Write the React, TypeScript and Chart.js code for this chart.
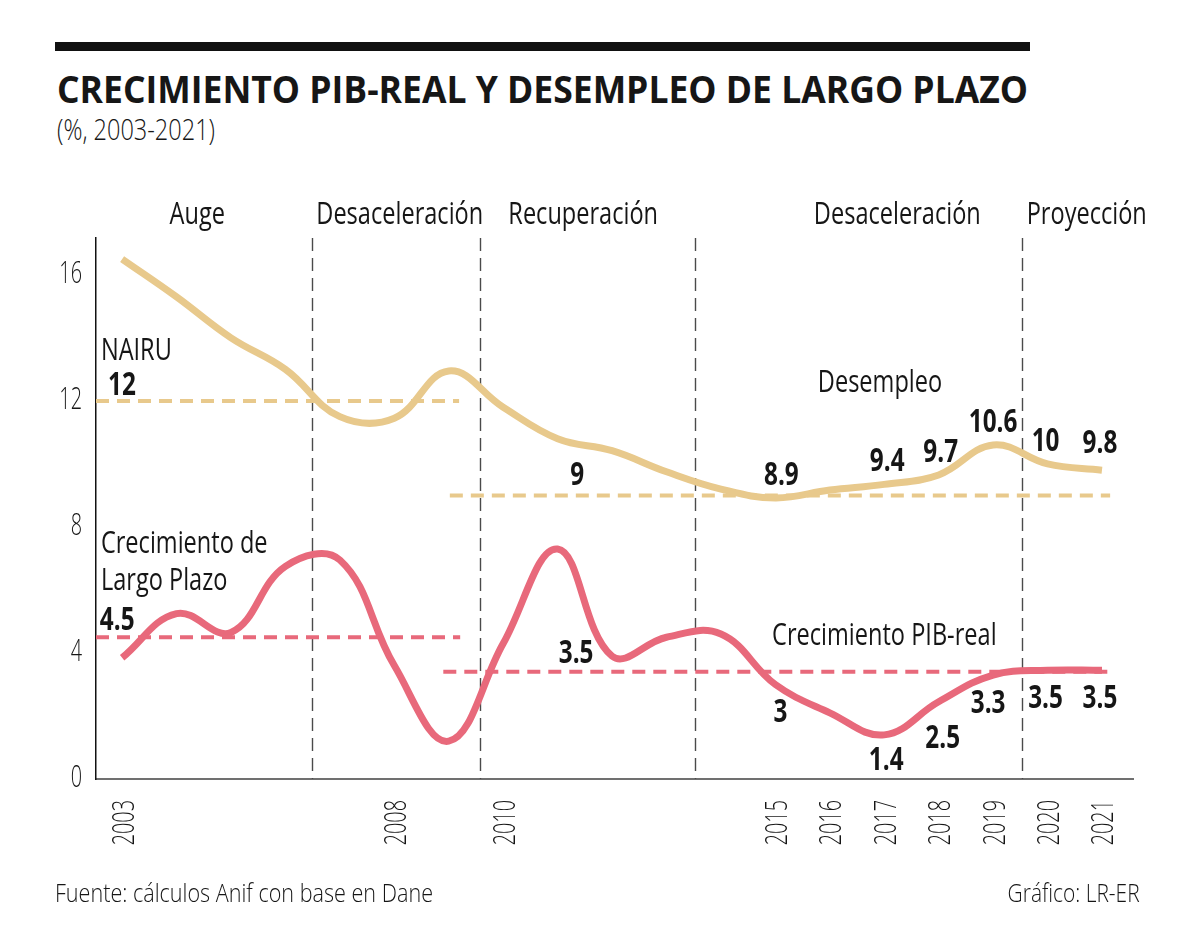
import React, { useEffect, useLayoutEffect, useRef } from "react";
import { Chart, registerables } from "chart.js";

Chart.register(...registerables);

// ---------- data ----------
const years = [2003, 2004, 2005, 2006, 2007, 2008, 2009, 2010, 2011, 2012, 2013, 2014, 2015, 2016, 2017, 2018, 2019, 2020, 2021];
const unemployment = [16.5, 15.3, 14.0, 13.0, 11.5, 11.45, 12.95, 11.8, 10.8, 10.42, 9.75, 9.2, 8.92, 9.17, 9.35, 9.65, 10.6, 10.0, 9.8];
const growthPIB = [3.85, 5.25, 4.65, 6.75, 6.95, 3.6, 1.2, 4.3, 7.3, 3.9, 4.5, 4.6, 3.0, 2.1, 1.4, 2.45, 3.3, 3.45, 3.45];

const nairuLevels = [12, 9];
const nairuStarts = [2002.52, 2009.02];
const nairuEnds = [2009.19, 2021.15];
const nairuLabels = ["12", "9"];

const longGrowthLevels = [4.5, 3.4];
const longGrowthStarts = [2002.52, 2008.9];
const longGrowthEnds = [2009.21, 2021.15];
const longGrowthLabels = ["4.5", "3.5"];

const periodNames = ["Auge", "Desaceleración", "Recuperación", "Desaceleración", "Proyección"];
const periodCenters = [2004.38, 2008.1, 2011.47, 2017.24, 2020.72];
const periodBreaks = [2006.49, 2009.58, 2013.53, 2019.53];

const xTickYears = [2003, 2008, 2010, 2015, 2016, 2017, 2018, 2019, 2020, 2021];
const yTickValues = [0, 4, 8, 12, 16];

const unempLabelYears = [2015, 2017, 2018, 2019, 2020, 2021];
const unempLabelTexts = ["8.9", "9.4", "9.7", "10.6", "10", "9.8"];
const growthLabelYears = [2015, 2017, 2018, 2019, 2020, 2021];
const growthLabelTexts = ["3", "1.4", "2.5", "3.3", "3.5", "3.5"];

// label nudges (pixels) for readability, matching the reference placement
const unempLabelNudgeX = [6, 3, 2, 0, -2, -2];
const unempLabelNudgeY = [0, 0, 0, 0, 0, -4];
const growthLabelNudgeX = [5, 2, 4, -5, -2, -2];
const growthLabelNudgeY = [0, -3, 8, 0, 0, 0];

// ---------- styles ----------
const TAN = "#E8C98C";
const PINK = "#E8697B";
const INK = "#161616";
const FONT = '"Open Sans", "Noto Sans", sans-serif';

type TxtOpts = { size: number; weight?: number; sx?: number; align?: CanvasTextAlign; color?: string; rotate?: boolean };
const REG: TxtOpts = { size: 31, weight: 400, sx: 0.76 };
const BOLD: TxtOpts = { size: 32, weight: 700, sx: 0.76 };
const TICK: TxtOpts = { size: 32, weight: 300, sx: 0.62 };

function txt(ctx: CanvasRenderingContext2D, s: string, x: number, y: number, o: TxtOpts) {
  ctx.save();
  ctx.font = `${o.weight ?? 400} ${o.size}px ${FONT}`;
  ctx.fillStyle = o.color ?? INK;
  ctx.textAlign = o.align ?? "left";
  ctx.textBaseline = "alphabetic";
  ctx.translate(x, y);
  if (o.rotate) ctx.rotate(-Math.PI / 2);
  ctx.scale(o.sx ?? 1, 1);
  ctx.fillText(s, 0, 0);
  ctx.restore();
}

const annotations = {
  id: "annotations",
  beforeDatasetsDraw(chart: any) {
    const { ctx, chartArea: a, scales } = chart;
    const x = scales.x;
    ctx.save();
    ctx.strokeStyle = "#4a4a4a";
    ctx.lineWidth = 1.4;
    ctx.setLineDash([13, 7]);
    periodBreaks.forEach((b) => {
      const px = Math.round(x.getPixelForValue(b)) + 0.5;
      ctx.beginPath();
      ctx.moveTo(px, a.top);
      ctx.lineTo(px, a.bottom);
      ctx.stroke();
    });
    ctx.restore();
  },
  afterDatasetsDraw(chart: any) {
    const { ctx, chartArea: a, scales } = chart;
    const x = scales.x;
    const y = scales.y;
    // axis tick labels
    yTickValues.forEach((v) => txt(ctx, String(v), a.left - 14, y.getPixelForValue(v) + 8, { ...TICK, align: "right" }));
    xTickYears.forEach((yr) =>
      txt(ctx, String(yr), x.getPixelForValue(yr) + 11.5, a.bottom + 21, { ...TICK, align: "right", rotate: true })
    );
    // period labels
    periodNames.forEach((n, i) => txt(ctx, n, x.getPixelForValue(periodCenters[i]), a.top - 14, { ...REG, align: "center" }));
    // series names
    txt(ctx, "NAIRU", x.getPixelForValue(2002.61), y.getPixelForValue(13.3), REG);
    txt(ctx, "Crecimiento de", x.getPixelForValue(2002.61), y.getPixelForValue(7.17), REG);
    txt(ctx, "Largo Plazo", x.getPixelForValue(2002.61), y.getPixelForValue(6.0), REG);
    txt(ctx, "Desempleo", x.getPixelForValue(2015.78), y.getPixelForValue(12.29), REG);
    txt(ctx, "Crecimiento PIB-real", x.getPixelForValue(2014.94), y.getPixelForValue(4.25), REG);
    // reference level labels
    txt(ctx, nairuLabels[0], x.getPixelForValue(2002.74), y.getPixelForValue(nairuLevels[0]) - 6, BOLD);
    txt(ctx, nairuLabels[1], x.getPixelForValue(2011.36), y.getPixelForValue(nairuLevels[1]) - 10, { ...BOLD, align: "center" });
    txt(ctx, longGrowthLabels[0], x.getPixelForValue(2002.59), y.getPixelForValue(longGrowthLevels[0]) - 7, BOLD);
    txt(ctx, longGrowthLabels[1], x.getPixelForValue(2011.34), y.getPixelForValue(longGrowthLevels[1]) - 9, { ...BOLD, align: "center" });
    // value labels
    unempLabelYears.forEach((yr, i) => {
      const v = unemployment[years.indexOf(yr)];
      txt(
        ctx,
        unempLabelTexts[i],
        x.getPixelForValue(yr) + unempLabelNudgeX[i],
        y.getPixelForValue(v) - 13 + unempLabelNudgeY[i],
        { ...BOLD, align: "center" }
      );
    });
    growthLabelYears.forEach((yr, i) => {
      const v = growthPIB[years.indexOf(yr)];
      txt(
        ctx,
        growthLabelTexts[i],
        x.getPixelForValue(yr) + growthLabelNudgeX[i],
        y.getPixelForValue(v) + 38 + growthLabelNudgeY[i],
        { ...BOLD, align: "center" }
      );
    });
  },
};

function curve(values: number[], color: string) {
  return {
    data: years.map((yr, i) => ({ x: yr, y: values[i] })),
    borderColor: color,
    borderWidth: 7,
    tension: 0.4,
    pointRadius: 0,
    pointHoverRadius: 0,
    fill: false,
  };
}

function level(value: number, from: number, to: number, color: string) {
  return {
    data: [
      { x: from, y: value },
      { x: to, y: value },
    ],
    borderColor: color,
    borderWidth: 4,
    borderDash: [13, 8],
    tension: 0,
    pointRadius: 0,
    pointHoverRadius: 0,
    fill: false,
  };
}

function FitText(props: {
  text: string;
  left?: number;
  right?: number;
  baseline: number;
  size: number;
  weight: number;
  width: number;
  color?: string;
}) {
  const ref = useRef<HTMLSpanElement>(null);
  useLayoutEffect(() => {
    const el = ref.current;
    if (!el) return;
    const apply = () => {
      el.style.transform = "none";
      const w = el.getBoundingClientRect().width;
      if (w > 0) el.style.transform = `scaleX(${props.width / w})`;
    };
    apply();
    (document as any).fonts?.ready?.then(apply);
  }, []);
  const style: React.CSSProperties = {
    position: "absolute",
    top: props.baseline - 0.888 * props.size,
    fontFamily: FONT,
    fontSize: props.size,
    fontWeight: props.weight,
    lineHeight: `${props.size}px`,
    whiteSpace: "nowrap",
    color: props.color ?? INK,
    transformOrigin: props.right != null ? "right top" : "left top",
  };
  if (props.right != null) style.right = 1200 - props.right;
  else style.left = props.left;
  return (
    <span ref={ref} style={style}>
      {props.text}
    </span>
  );
}

export default function App() {
  const canvasRef = useRef<HTMLCanvasElement>(null);

  useEffect(() => {
    const canvas = canvasRef.current;
    if (!canvas) return;
    const chart = new Chart(canvas, {
      type: "line",
      data: {
        datasets: [
          curve(unemployment, TAN),
          curve(growthPIB, PINK),
          level(nairuLevels[0], nairuStarts[0], nairuEnds[0], TAN),
          level(nairuLevels[1], nairuStarts[1], nairuEnds[1], TAN),
          level(longGrowthLevels[0], longGrowthStarts[0], longGrowthEnds[0], PINK),
          level(longGrowthLevels[1], longGrowthStarts[1], longGrowthEnds[1], PINK),
        ] as any,
      },
      options: {
        responsive: false,
        animation: false,
        devicePixelRatio: 1,
        events: [],
        layout: { padding: { left: 96, top: 238, right: 67, bottom: 171 } },
        plugins: {
          legend: { display: false },
          tooltip: { enabled: false },
          title: { display: false },
        },
        scales: {
          x: {
            type: "linear",
            min: 2002.52,
            max: 2021.57,
            grid: { display: false, drawTicks: false },
            border: { display: true, color: "#707070", width: 2 },
            ticks: { display: false },
          },
          y: {
            type: "linear",
            min: 0,
            max: 17.17,
            grid: { display: false, drawTicks: false },
            border: { display: true, color: "#111111", width: 1.5 },
            ticks: { display: false },
          },
        },
      } as any,
      plugins: [annotations],
    });
    return () => chart.destroy();
  }, []);

  return (
    <div
      style={{
        position: "absolute",
        left: 0,
        top: 0,
        width: 1200,
        height: 950,
        background: "#ffffff",
        overflow: "hidden",
      }}
    >
      <div style={{ position: "absolute", left: 55, top: 42, width: 975, height: 9, background: "#111" }} />
      <FitText text="CRECIMIENTO PIB-REAL Y DESEMPLEO DE LARGO PLAZO" left={57} baseline={103} size={38} weight={700} width={971} />
      <FitText text="(%, 2003-2021)" left={57} baseline={141} size={30} weight={300} width={158} />
      <canvas ref={canvasRef} width={1200} height={950} style={{ position: "absolute", left: 0, top: 0, width: 1200, height: 950 }} />
      <FitText text="Fuente: cálculos Anif con base en Dane" left={55} baseline={902} size={25} weight={300} width={378} />
      <FitText text="Gráfico: LR-ER" right={1140} baseline={902} size={25} weight={300} width={132} />
    </div>
  );
}
